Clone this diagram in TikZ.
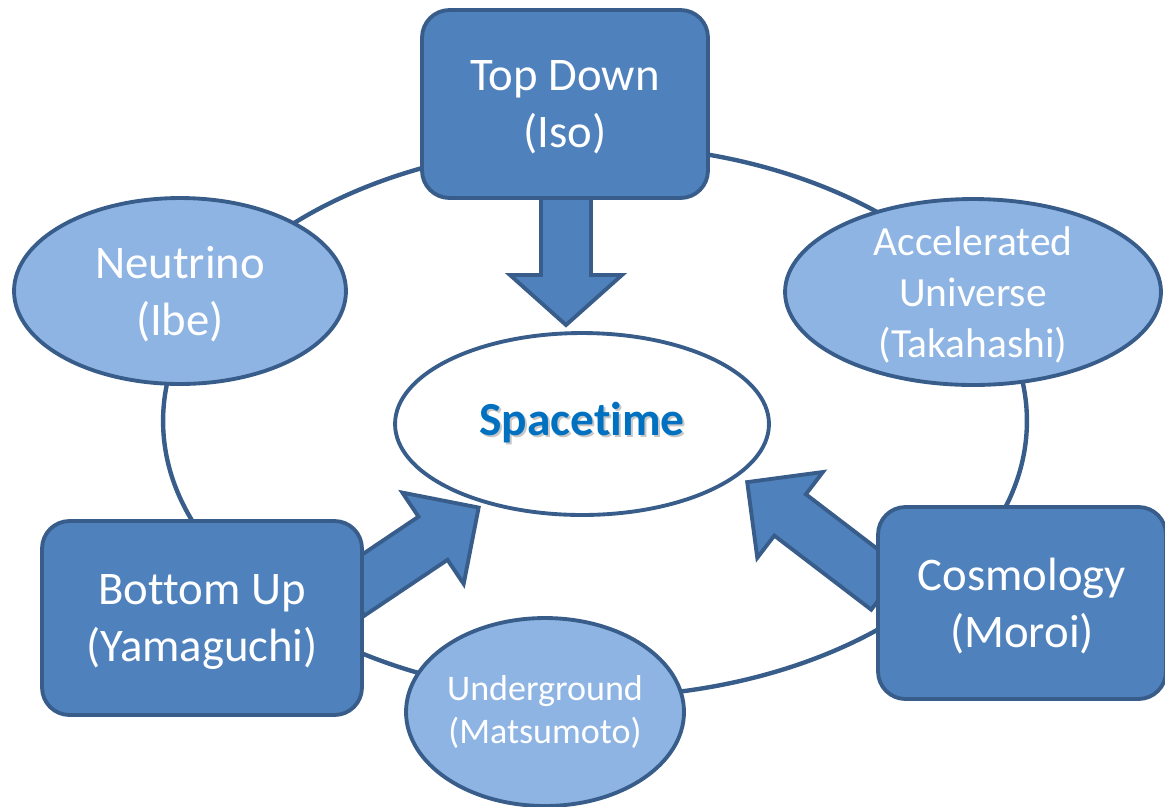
\documentclass[tikz,border=0pt]{standalone}
\usepackage{fontspec}
\setmainfont{Carlito}[Ligatures=NoCommon]
\usetikzlibrary{shapes.geometric,backgrounds}

\definecolor{boxblue}{HTML}{4F81BD}
\definecolor{edgeblue}{HTML}{385D8A}
\definecolor{ovalblue}{HTML}{8EB4E3}
\definecolor{stblue}{HTML}{0070C0}

\tikzset{
	sq/.style={rectangle, rounded corners=0.55cm, draw=edgeblue, fill=boxblue, line width=2.2pt,
		text=white, align=center, inner sep=0pt, text depth=0pt, font=\fontsize{26.6}{32.3}\selectfont},
	oval/.style={ellipse, draw=edgeblue, fill=ovalblue, line width=2.2pt,
		text=white, align=center, inner sep=0pt},
	fatarrow/.style={draw=edgeblue, fill=boxblue, line width=2.2pt, line join=miter},
}

\begin{document}
\begin{tikzpicture}[x=0.02cm, y=-0.02cm]
		\useasboundingbox (0,0) rectangle (1165,806);
		\clip (0,0) rectangle (1165,806);

		% the five groups
		\node[sq, minimum width=5.72cm, minimum height=3.76cm] (top) at (565,104) {Top Down\\(Iso)};
		\node[sq, minimum width=6.4cm, minimum height=3.88cm] (bu) at (202,618) {Bottom Up\\(Yamaguchi)};
		\node[sq, minimum width=5.76cm, minimum height=3.84cm] (cosmo) at (1022,603) {Cosmology\\(Moroi)};

		\node[oval, text depth=0pt, minimum width=6.64cm, minimum height=3.72cm, font=\fontsize{26.6}{32.9}\selectfont] (nu) at (180,291) {Neutrino\\(Ibe)};
		\node[oval, text depth=0pt, minimum width=7.52cm, minimum height=3.72cm, font=\fontsize{23.6}{29}\selectfont] (acc) at (973,292) {Accelerated\\Universe\\(Takahashi)};
		\node[oval, minimum width=5.56cm, minimum height=3.76cm, font=\fontsize{20.5}{24.4}\selectfont] (ug) at (545,712) {Underground\\(Matsumoto)};

		% centre
		\node[ellipse, draw=edgeblue, fill=white, line width=2.2pt, inner sep=0pt,
			minimum width=7.48cm, minimum height=3.64cm, text=stblue,
			font=\fontsize{27}{32}\selectfont\bfseries] (st) at (582,424)
			{\rlap{\kern1.2pt\raisebox{-1.2pt}{\color{black!22}Spacetime}}Spacetime};

		\coordinate (a1) at (566,185);
		\coordinate (a2) at (350,594);
		\coordinate (a3) at (887,589);

		\begin{scope}[on background layer]
			\node[ellipse, draw=edgeblue, line width=2.5pt, minimum width=17.28cm, minimum height=11.04cm] (ring) at (595,421) {};

			\begin{scope}[shift={(a1)}, rotate=-90]
				\draw[fatarrow] (0,-25) -- (90,-25) -- (90,-56) -- (140,0) -- (90,56) -- (90,25) -- (0,25) -- cycle;
			\end{scope}
			\begin{scope}[shift={(a2)}, rotate=33.9]
				\draw[fatarrow] (0,-26) -- (100,-26) -- (100,-55) -- (155,0) -- (100,55) -- (100,26) -- (0,26) -- cycle;
			\end{scope}
			\begin{scope}[shift={(a3)}, rotate=142.6]
				\draw[fatarrow] (0,-26) -- (122,-26) -- (122,-54) -- (176,0) -- (122,54) -- (122,26) -- (0,26) -- cycle;
			\end{scope}
		\end{scope}
	\end{tikzpicture}
\end{document}
